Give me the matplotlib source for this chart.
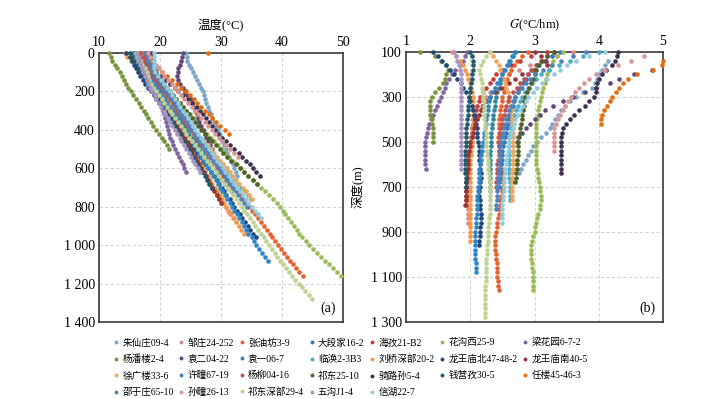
import numpy as np
import matplotlib.pyplot as plt
from matplotlib.lines import Line2D

plt.rcParams['font.family'] = ['Liberation Serif', 'Noto Sans CJK SC']
plt.rcParams['mathtext.fontset'] = 'stix'

# well names and series colours (legend order)
wells = ['朱仙庄09-4', '邹庄24-252', '张油坊3-9', '大段家16-2', '海孜21-B2', '花沟西25-9', '梁花园6-7-2',
         '杨潘楼2-4', '袁二04-22', '袁一06-7', '临涣2-3B3', '刘桥深部20-2', '龙王庙北47-48-2', '龙王庙南40-5',
         '徐广楼33-6', '许疃67-19', '杨柳04-16', '祁东25-10', '骑路孙5-4', '钱营孜30-5', '任楼45-46-3',
         '邵于庄65-10', '孙疃26-13', '祁东深部29-4', '五沟J1-4', '信湖22-7']
colors = ['#7EA6CA', '#DA8A8A', '#E5622C', '#2E78B7', '#C43B3B', '#9BBB59', '#8064A2',
          '#77933C', '#5F497A', '#31859C', '#4BACC6', '#F79646', '#1F497D', '#953735',
          '#F2A65A', '#2F86C6', '#C0504D', '#4F6228', '#3F3151', '#215968', '#E46C0A',
          '#4F81BD', '#D99694', '#BFD393', '#A795C2', '#93CDDD']

step = 20  # logging interval (m); temperature lists start at 0 m

# temperature (°C) every 20 m from the surface
t01 = [24.2, 24.4, 24.5, 24.7, 25.0, 25.4, 25.8, 26.1, 26.4, 26.7, 27.0, 27.2, 27.4, 27.6, 27.8, 28.0, 28.3,
       28.6, 28.9, 29.2, 29.5, 29.8, 30.0, 30.2, 30.5, 30.8, 31.0, 31.3, 31.6, 31.9, 32.2, 32.4, 32.7]
t02 = [17.0, 17.3, 17.7, 18.0, 18.3, 18.6, 19.0, 19.3, 19.7, 20.0, 20.2, 20.5, 20.9, 21.2, 21.5, 21.8, 22.1,
       22.4, 22.8, 23.1, 23.4, 23.7, 24.1, 24.4, 24.7, 25.1, 25.5, 25.8, 26.1, 26.5, 26.9, 27.2, 27.6, 27.9,
       28.3, 28.7, 29.1, 29.5, 30.0, 30.4, 30.8, 31.2, 31.5, 31.9]
t03 = [16.5, 16.6, 16.8, 17.1, 17.5, 17.9, 18.4, 18.8, 19.3, 19.7, 20.2, 20.7, 21.2, 21.6, 22.1, 22.6, 23.1,
       23.6, 24.0, 24.5, 25.0, 25.5, 26.0, 26.4, 26.9, 27.4, 27.9, 28.4, 28.8, 29.3, 29.8, 30.3, 30.8, 31.2,
       31.7, 32.2, 32.7, 33.2, 33.6, 34.1, 34.6, 35.1, 35.6, 36.0, 36.5, 37.0, 37.5, 38.0, 38.4, 38.9, 39.4,
       39.9, 40.4, 40.8, 41.3, 41.8, 42.3, 42.8, 43.4]
t04 = [17.5, 17.8, 18.0, 18.1, 18.2, 18.4, 18.9, 19.4, 19.9, 20.4, 20.8, 21.3, 21.8, 22.2, 22.7, 23.1, 23.6,
       24.0, 24.5, 25.0, 25.4, 25.8, 26.3, 26.7, 27.2, 27.6, 28.1, 28.5, 29.0, 29.4, 29.9, 30.3, 30.7, 31.2,
       31.7, 32.2]
t05 = [15.8, 16.3, 16.9, 17.4, 17.8, 18.2, 18.5, 18.9, 19.2, 19.5, 19.8, 20.2, 20.5, 20.9, 21.2, 21.5, 21.8,
       22.2, 22.5, 22.9, 23.2, 23.6, 23.9, 24.3, 24.6, 25.0, 25.3, 25.7, 26.0, 26.4, 26.8, 27.1, 27.5, 27.9,
       28.2, 28.6, 29.0, 29.3, 29.7, 30.1]
t06 = [16.5, 16.8, 17.2, 17.6, 18.0, 18.5, 19.0, 19.6, 20.2, 20.8, 21.4, 22.0, 22.6, 23.2, 23.7, 24.3, 24.9,
       25.5, 26.0, 26.6, 27.2, 27.7, 28.3, 28.9, 29.5, 30.1, 30.7, 31.3, 32.0, 32.6, 33.2, 33.8, 34.5, 35.2,
       35.9, 36.6, 37.2, 37.9, 38.6, 39.1, 39.6, 40.1, 40.5, 41.0, 41.5, 42.0, 42.4, 42.8, 43.3, 43.9, 44.5,
       45.1, 45.8, 46.4, 47.1, 47.7, 48.3, 49.0, 49.6]
t07 = [17.0, 17.3, 17.6, 17.9, 18.1, 18.4, 18.7, 18.9, 19.2, 19.4, 19.7, 19.9, 20.0, 20.2, 20.3, 20.5, 20.7,
       20.8, 21.0, 21.1, 21.3, 21.5, 21.7, 21.9, 22.2, 22.5, 22.8, 23.1, 23.4, 23.7, 24.0, 24.3]
t08 = [11.6, 11.9, 12.2, 12.6, 13.0, 13.4, 13.8, 14.1, 14.5, 14.8, 15.2, 15.6, 16.0, 16.5, 16.9, 17.3, 17.7,
       18.1, 18.5, 18.9, 19.4, 19.8, 20.3, 20.7, 21.1, 21.5]
t09 = [23.8, 23.6, 23.4, 23.2, 23.0, 22.9, 22.8, 22.9, 23.3, 23.7, 24.1, 24.5, 25.0, 25.3, 25.6, 25.8, 26.0,
       26.2, 26.4, 26.7, 27.0, 27.3, 27.6, 27.9, 28.2, 28.6]
t10 = [15.5, 16.0, 16.5, 16.9, 17.3, 17.7, 18.2, 18.6, 19.1, 19.6, 20.0, 20.5, 20.9, 21.3, 21.8, 22.2, 22.6,
       23.1, 23.5, 24.0, 24.4, 24.8, 25.3, 25.7, 26.2, 26.6, 27.1, 27.5, 27.9, 28.3, 28.8, 29.3, 29.7, 30.2,
       30.6, 31.1, 31.6]
t11 = [18.2, 18.4, 18.6, 18.7, 18.8, 19.0, 19.5, 20.0, 20.4, 20.8, 21.2, 21.7, 22.1, 22.5, 23.0, 23.4, 23.9,
       24.3, 24.8, 25.2, 25.6, 26.1, 26.6, 27.1, 27.5, 28.0, 28.5, 29.0, 29.6, 30.1, 30.6, 31.2, 31.7, 32.2,
       32.8, 33.3, 33.9, 34.4, 34.9]
t12 = [14.2, 14.6, 15.3, 15.9, 16.4, 16.7, 17.1, 17.6, 18.0, 18.5, 18.9, 19.3, 19.8, 20.2, 20.7, 21.2, 21.6,
       22.0, 22.4, 22.8, 23.2, 23.6, 24.0, 24.3, 24.7, 25.1, 25.5, 25.9, 26.3, 26.6, 27.0, 27.4, 27.8, 28.2,
       28.6, 29.0, 29.4, 29.8, 30.1, 30.5, 30.9, 31.3, 31.7, 32.1, 32.5, 32.9, 33.3, 33.7]
t13 = [14.5, 15.0, 15.4, 15.8, 16.1, 16.4, 16.8, 17.2, 17.6, 18.0, 18.5, 19.0, 19.4, 19.9, 20.4, 20.9, 21.4,
       21.9, 22.3, 22.8, 23.3, 23.8, 24.2, 24.7, 25.1, 25.6, 26.1, 26.5, 27.0, 27.4, 27.9, 28.4, 28.8, 29.3,
       29.7, 30.1, 30.5, 30.9, 31.4, 31.8, 32.2, 32.6, 33.1, 33.5, 33.9, 34.4, 34.8, 35.2, 35.7]
t14 = [16.0, 16.4, 16.9, 17.3, 17.6, 18.0, 18.7, 19.5, 20.1, 20.4, 20.6, 20.9, 21.2, 21.4, 21.7, 21.9, 22.2,
       22.5, 22.8, 23.1, 23.4, 23.7, 24.1, 24.4, 24.7, 25.0, 25.3, 25.7, 26.0, 26.4, 26.8, 27.2, 27.5, 27.9,
       28.2, 28.6, 28.9, 29.3, 29.7, 30.0]
t15 = [17.2, 17.1, 17.0, 17.1, 17.2, 17.3, 17.8, 18.4, 18.9, 19.4, 20.0, 20.5, 21.1, 21.7, 22.2, 22.8, 23.4,
       23.9, 24.5, 25.0, 25.6, 26.1, 26.7, 27.2, 27.8, 28.3, 28.8, 29.4, 29.9, 30.4, 31.0, 31.5, 32.0, 32.5,
       33.0, 33.6, 34.1, 34.6, 35.1]
t16 = [16.0, 16.4, 16.8, 17.1, 17.4, 17.7, 18.2, 18.7, 19.1, 19.6, 20.0, 20.4, 20.8, 21.2, 21.6, 21.9, 22.3,
       22.8, 23.2, 23.6, 24.0, 24.4, 24.8, 25.2, 25.6, 26.0, 26.4, 26.8, 27.2, 27.5, 27.9, 28.3, 28.7, 29.1,
       29.5, 29.8, 30.2, 30.6, 31.0, 31.4, 31.8, 32.2, 32.6, 33.0, 33.4, 33.7, 34.1, 34.5, 35.0, 35.4, 35.8,
       36.2, 36.7, 37.2, 37.7]
t17 = [16.8, 17.2, 17.6, 17.9, 18.1, 18.3, 18.8, 19.3, 19.8, 20.3, 20.8, 21.2, 21.7, 22.1, 22.4, 22.8, 23.3,
       23.7, 24.1, 24.6, 25.0, 25.5, 25.9, 26.4, 26.8, 27.3, 27.7, 28.2, 28.7, 29.1, 29.5, 30.0, 30.4, 30.9,
       31.3, 31.8]
t18 = [17.5, 17.8, 18.1, 18.4, 18.7, 19.0, 19.6, 20.2, 20.7, 21.2, 21.7, 22.2, 22.7, 23.2, 23.7, 24.2, 24.7,
       25.2, 25.7, 26.2, 26.8, 27.4, 28.0, 28.6, 29.2, 29.8, 30.4, 31.0, 31.7, 32.4, 33.1, 33.8, 34.5, 35.2,
       35.9]
t19 = [18.5, 18.6, 18.8, 19.0, 19.2, 19.4, 20.2, 21.0, 21.7, 22.4, 23.0, 23.8, 24.6, 25.3, 26.0, 26.6, 27.1,
       27.6, 28.1, 28.6, 29.0, 29.5, 30.1, 30.8, 31.5, 32.2, 32.9, 33.5, 34.1, 34.7, 35.3, 35.8, 36.4]
t20 = [15.0, 15.4, 15.8, 16.2, 16.6, 17.0, 17.4, 17.9, 18.3, 18.7, 19.1, 19.4, 19.8, 20.2, 20.6, 20.9, 21.3,
       21.7, 22.1, 22.4, 22.8, 23.2, 23.5, 23.9, 24.3, 24.7, 25.0, 25.4, 25.8, 26.1, 26.5, 26.9, 27.3, 27.7,
       28.1, 28.5]
t21 = [27.9, 17.8, 18.4, 19.0, 19.7, 20.4, 21.2, 22.0, 22.8, 23.5, 24.2, 24.9, 25.5, 26.1, 26.7, 27.3, 28.0,
       28.6, 29.2, 29.9, 30.6, 31.3]
t22 = [17.6, 17.8, 18.1, 18.3, 18.6, 18.8, 19.3, 19.8, 20.2, 20.6, 21.0, 21.4, 21.9, 22.3, 22.7, 23.1, 23.5,
       24.0, 24.4, 24.8, 25.2, 25.7, 26.1, 26.5, 27.0, 27.4, 27.8, 28.3, 28.8, 29.3, 29.7, 30.1, 30.6, 31.0,
       31.5, 31.9, 32.4, 32.8, 33.3, 33.7, 34.2]
t23 = [18.0, 18.4, 18.8, 19.3, 19.8, 20.3, 20.6, 21.3, 21.9, 22.4, 22.9, 23.5, 24.0, 24.6, 25.2, 25.7, 26.3,
       26.8, 27.4, 27.9, 28.5, 29.0, 29.6, 30.2, 30.8, 31.5, 32.2, 32.8]
t24 = [16.0, 16.3, 16.7, 17.1, 17.5, 17.8, 18.0, 18.2, 18.5, 18.9, 19.3, 19.8, 20.3, 20.7, 21.1, 21.6, 22.0,
       22.5, 22.9, 23.4, 23.9, 24.3, 24.8, 25.3, 25.8, 26.3, 26.7, 27.2, 27.7, 28.2, 28.7, 29.1, 29.6, 30.1,
       30.6, 31.1, 31.5, 32.0, 32.4, 32.9, 33.4, 33.8, 34.3, 34.7, 35.2, 35.6, 36.1, 36.5, 37.0, 37.4, 37.9,
       38.3, 38.8, 39.2, 39.7, 40.1, 40.6, 41.1, 41.6, 42.2, 42.8, 43.3, 43.8, 44.4, 44.9]
t25 = [16.3, 16.4, 16.6, 16.8, 17.0, 17.2, 17.5, 17.8, 18.1, 18.4, 18.7, 19.1, 19.4, 19.8, 20.2, 20.6, 20.9,
       21.3, 21.7, 22.0, 22.4, 22.8, 23.2, 23.5, 23.9, 24.3, 24.7, 25.0, 25.4, 25.8, 26.2, 26.5]
t26 = [19.0, 19.0, 19.0, 19.0, 19.0, 19.1, 19.6, 20.1, 20.6, 21.1, 21.6, 22.0, 22.5, 22.9, 23.3, 23.7, 24.2,
       24.6, 25.0, 25.4, 25.8, 26.3, 26.7, 27.1, 27.6, 28.0, 28.5, 28.9, 29.4, 29.8, 30.3, 30.7, 31.3, 31.7,
       32.2, 32.6, 33.1, 33.6, 34.1, 34.5, 35.0, 35.5, 36.0, 36.5]

# mean geothermal gradient G (°C/hm) every 20 m, starting at the depth in g_top
g_top = [140, 100, 100, 100, 100, 100, 100, 100, 180, 100, 100, 100, 100, 100,
         100, 100, 100, 100, 100, 100, 140, 100, 120, 100, 100, 100]
g01 = [4.15, 4.10, 4.05, 4.00, 3.97, 3.94, 3.90, 3.75, 3.64, 3.55, 3.47, 3.42, 3.37, 3.32, 3.28, 3.24, 3.18,
       3.10, 3.04, 2.98, 2.94, 2.90, 2.86, 2.82, 2.79, 2.76]
g02 = [3.60, 3.35, 3.10, 2.93, 2.76, 2.60, 2.52, 2.45, 2.38, 2.31, 2.25, 2.22, 2.19, 2.16, 2.13, 2.10, 2.08,
       2.07, 2.05, 2.03, 2.02, 2.01, 2.00, 1.99, 1.98, 1.98, 1.97, 1.97, 1.96, 1.96, 1.96, 1.96, 1.96, 1.97,
       1.97, 1.97, 1.97, 1.97, 1.97]
g03 = [2.90, 2.80, 2.72, 2.68, 2.63, 2.60, 2.57, 2.55, 2.53, 2.52, 2.50, 2.49, 2.48, 2.47, 2.46, 2.45, 2.45,
       2.44, 2.44, 2.43, 2.43, 2.44, 2.45, 2.46, 2.47, 2.48, 2.49, 2.50, 2.50, 2.51, 2.50, 2.49, 2.48, 2.47,
       2.46, 2.45, 2.44, 2.43, 2.42, 2.41, 2.40, 2.39, 2.39, 2.39, 2.39, 2.40, 2.40, 2.41, 2.41, 2.42, 2.42,
       2.43, 2.43, 2.44]
g04 = [3.40, 3.28, 3.17, 3.07, 2.98, 2.90, 2.86, 2.82, 2.78, 2.74, 2.70, 2.68, 2.66, 2.64, 2.62, 2.60, 2.58,
       2.57, 2.55, 2.54, 2.52, 2.51, 2.50, 2.50, 2.49, 2.48, 2.47, 2.46, 2.46, 2.45, 2.45]
g05 = [3.20, 2.95, 2.78, 2.64, 2.50, 2.40, 2.35, 2.30, 2.25, 2.20, 2.15, 2.13, 2.11, 2.09, 2.07, 2.05, 2.04,
       2.03, 2.02, 2.01, 2.00, 1.99, 1.98, 1.97, 1.97, 1.96, 1.96, 1.95, 1.95, 1.94, 1.94, 1.94, 1.93, 1.93,
       1.93]
g06 = [3.45, 3.35, 3.29, 3.26, 3.23, 3.20, 3.18, 3.16, 3.14, 3.12, 3.10, 3.09, 3.07, 3.06, 3.05, 3.04, 3.03,
       3.03, 3.02, 3.02, 3.02, 3.02, 3.02, 3.03, 3.03, 3.03, 3.04, 3.05, 3.06, 3.07, 3.08, 3.09, 3.10, 3.10,
       3.09, 3.08, 3.06, 3.04, 3.02, 3.01, 3.00, 2.98, 2.96, 2.95, 2.95, 2.95, 2.95, 2.96, 2.96, 2.97, 2.97,
       2.97, 2.98, 2.98]
g07 = [1.95, 1.92, 1.88, 1.84, 1.76, 1.71, 1.67, 1.63, 1.60, 1.57, 1.55, 1.52, 1.48, 1.45, 1.42, 1.39, 1.36,
       1.34, 1.32, 1.31, 1.30, 1.30, 1.29, 1.29, 1.30, 1.30, 1.31]
g08 = [1.22, 1.45, 1.55, 1.62, 1.66, 1.62, 1.60, 1.58, 1.52, 1.45, 1.40, 1.38, 1.37, 1.37, 1.38, 1.40, 1.41,
       1.42, 1.42, 1.42, 1.42]
g09 = [4.83, 4.55, 4.32, 4.17, 3.96, 3.79, 3.60, 3.44, 3.29, 3.17, 3.08, 3.00, 2.93, 2.86, 2.80, 2.75, 2.72]
g10 = [2.70, 2.65, 2.60, 2.57, 2.53, 2.50, 2.48, 2.46, 2.44, 2.42, 2.40, 2.39, 2.38, 2.37, 2.36, 2.35, 2.34,
       2.34, 2.33, 2.33, 2.32, 2.32, 2.31, 2.31, 2.30, 2.30, 2.30, 2.30, 2.30, 2.30, 2.30, 2.30]
g11 = [4.00, 3.75, 3.55, 3.38, 3.23, 3.10, 3.03, 2.96, 2.90, 2.85, 2.80, 2.77, 2.74, 2.71, 2.68, 2.65, 2.64,
       2.63, 2.62, 2.61, 2.60, 2.60, 2.60, 2.60, 2.60, 2.60, 2.61, 2.61, 2.61, 2.62, 2.62, 2.62, 2.62, 2.62]
g12 = [1.72, 1.78, 1.84, 1.88, 1.92, 1.95, 1.97, 1.99, 2.01, 2.03, 2.05, 2.05, 2.05, 2.05, 2.05, 2.05, 2.04,
       2.04, 2.03, 2.03, 2.02, 2.02, 2.01, 2.01, 2.00, 2.00, 2.00, 2.00, 2.00, 2.00, 2.00, 2.00, 2.00, 1.99,
       1.99, 1.99, 1.99, 1.99, 1.99, 1.99, 1.99, 1.99, 1.99]
g13 = [1.42, 1.50, 1.56, 1.62, 1.68, 1.75, 1.80, 1.85, 1.89, 1.94, 1.98, 2.00, 2.02, 2.04, 2.06, 2.08, 2.09,
       2.10, 2.11, 2.11, 2.12, 2.13, 2.13, 2.14, 2.14, 2.15, 2.15, 2.16, 2.16, 2.15, 2.15, 2.14, 2.14, 2.15,
       2.15, 2.15, 2.16, 2.16, 2.16, 2.15, 2.15, 2.15, 2.14, 2.14]
g14 = [3.00, 3.10, 3.18, 3.20, 3.00, 2.80, 2.70, 2.60, 2.48, 2.38, 2.30, 2.25, 2.20, 2.16, 2.13, 2.10, 2.08,
       2.06, 2.04, 2.02, 2.00, 1.99, 1.98, 1.97, 1.97, 1.96, 1.96, 1.95, 1.95, 1.94, 1.94, 1.93, 1.93, 1.93,
       1.92]
g15 = [2.30, 2.35, 2.40, 2.44, 2.47, 2.50, 2.52, 2.54, 2.56, 2.58, 2.60, 2.61, 2.62, 2.63, 2.64, 2.65, 2.65,
       2.66, 2.66, 2.66, 2.66, 2.66, 2.66, 2.66, 2.66, 2.66, 2.66, 2.65, 2.65, 2.65, 2.65, 2.65, 2.65, 2.65]
g16 = [2.70, 2.66, 2.62, 2.58, 2.54, 2.50, 2.46, 2.42, 2.38, 2.34, 2.30, 2.29, 2.28, 2.27, 2.26, 2.25, 2.24,
       2.23, 2.22, 2.21, 2.20, 2.19, 2.18, 2.17, 2.16, 2.15, 2.14, 2.14, 2.13, 2.13, 2.12, 2.12, 2.11, 2.11,
       2.10, 2.10, 2.10, 2.09, 2.09, 2.09, 2.08, 2.08, 2.08, 2.08, 2.08, 2.08, 2.08, 2.09, 2.09, 2.09]
g17 = [3.30, 3.20, 3.10, 3.02, 2.95, 2.90, 2.84, 2.78, 2.72, 2.66, 2.60, 2.58, 2.56, 2.54, 2.52, 2.50, 2.49,
       2.48, 2.47, 2.46, 2.45, 2.45, 2.44, 2.44, 2.43, 2.42, 2.42, 2.41, 2.41, 2.40, 2.40]
g18 = [3.30, 3.20, 3.12, 3.06, 3.02, 3.00, 2.97, 2.94, 2.91, 2.88, 2.85, 2.84, 2.83, 2.82, 2.81, 2.80, 2.79,
       2.78, 2.77, 2.76, 2.75, 2.75, 2.74, 2.74, 2.73, 2.72, 2.72, 2.71, 2.71, 2.70]
g19 = [4.30, 4.28, 4.25, 4.20, 4.12, 4.05, 4.00, 3.97, 3.96, 3.95, 3.92, 3.85, 3.78, 3.70, 3.62, 3.55, 3.49,
       3.44, 3.43, 3.42, 3.42, 3.42, 3.42, 3.42, 3.42, 3.42, 3.42, 3.42]
g20 = [2.00, 2.02, 2.04, 2.05, 2.04, 2.03, 2.02, 2.01, 2.00, 1.99, 1.98, 1.98, 1.97, 1.96, 1.96, 1.95, 1.95,
       1.94, 1.94, 1.93, 1.93, 1.93, 1.92, 1.92, 1.92, 1.92, 1.92, 1.92, 1.93, 1.93, 1.93]
g21 = [5.00, 4.98, 4.85, 4.60, 4.46, 4.38, 4.32, 4.27, 4.21, 4.17, 4.13, 4.08, 4.05, 4.04, 4.04]
g22 = [3.80, 3.60, 3.42, 3.27, 3.13, 3.00, 2.93, 2.86, 2.80, 2.75, 2.70, 2.67, 2.64, 2.61, 2.58, 2.55, 2.54,
       2.52, 2.51, 2.49, 2.48, 2.47, 2.47, 2.46, 2.46, 2.45, 2.44, 2.44, 2.43, 2.43, 2.42, 2.42, 2.41, 2.41,
       2.40, 2.40]
g23 = [4.70, 4.50, 4.30, 4.10, 3.95, 3.85, 3.77, 3.70, 3.63, 3.57, 3.52, 3.48, 3.44, 3.40, 3.37, 3.34, 3.31,
       3.30, 3.30, 3.30, 3.30, 3.30]
g24 = [2.30, 2.25, 2.20, 2.16, 2.14, 2.15, 2.17, 2.18, 2.19, 2.20, 2.20, 2.21, 2.21, 2.22, 2.22, 2.22, 2.23,
       2.23, 2.24, 2.24, 2.25, 2.25, 2.26, 2.26, 2.27, 2.28, 2.28, 2.29, 2.29, 2.30, 2.30, 2.30, 2.30, 2.30,
       2.30, 2.30, 2.30, 2.29, 2.29, 2.28, 2.28, 2.27, 2.27, 2.26, 2.26, 2.26, 2.25, 2.25, 2.25, 2.24, 2.24,
       2.24, 2.23, 2.23, 2.23, 2.23, 2.23, 2.23, 2.23, 2.23]
g25 = [1.75, 1.78, 1.80, 1.82, 1.84, 1.85, 1.85, 1.85, 1.85, 1.85, 1.85, 1.85, 1.85, 1.85, 1.85, 1.85, 1.85,
       1.86, 1.86, 1.86, 1.86, 1.86, 1.86, 1.86, 1.86, 1.86, 1.86]
g26 = [4.10, 3.85, 3.65, 3.50, 3.40, 3.30, 3.20, 3.12, 3.04, 2.97, 2.90, 2.86, 2.82, 2.78, 2.74, 2.70, 2.68,
       2.66, 2.64, 2.62, 2.60, 2.59, 2.58, 2.57, 2.56, 2.55, 2.54, 2.54, 2.53, 2.53, 2.52, 2.52, 2.51, 2.51,
       2.50, 2.50, 2.50, 2.50, 2.50]

temps = [t01, t02, t03, t04, t05, t06, t07, t08, t09, t10, t11, t12, t13,
         t14, t15, t16, t17, t18, t19, t20, t21, t22, t23, t24, t25, t26]
grads = [g01, g02, g03, g04, g05, g06, g07, g08, g09, g10, g11, g12, g13,
         g14, g15, g16, g17, g18, g19, g20, g21, g22, g23, g24, g25, g26]

fig = plt.figure(figsize=(7.25, 3.99), dpi=100)
ax1 = fig.add_axes([99 / 725, 77 / 399, 244 / 725, 269 / 399])
ax2 = fig.add_axes([406 / 725, 77 / 399, 257 / 725, 270 / 399])

for i in range(len(wells)):
    t = temps[i]
    d = step * np.arange(len(t))
    ax1.plot(t, d, 'o', ms=3.3, mew=0, color=colors[i], label=wells[i], clip_on=False, zorder=3)
    g = grads[i]
    dg = g_top[i] + step * np.arange(len(g))
    ax2.plot(g, dg, 'o', ms=3.3, mew=0, color=colors[i], clip_on=False, zorder=3)

# left panel: temperature
ax1.set_xlim(10, 50)
ax1.set_ylim(1400, 0)
ax1.set_xticks([10, 20, 30, 40, 50])
ax1.set_yticks(range(0, 1401, 200))
ax1.set_yticklabels(['0', '200', '400', '600', '800', '1 000', '1 200', '1 400'])
ax1.xaxis.tick_top()
ax1.xaxis.set_label_position('top')
ax1.set_xlabel('温度(°C)', fontsize=9, labelpad=5)
ax1.text(0.97, 0.025, '(a)', transform=ax1.transAxes, ha='right', va='bottom', fontsize=10)

# right panel: gradient
ax2.set_xlim(1, 5)
ax2.set_ylim(1300, 100)
ax2.set_xticks([1, 2, 3, 4, 5])
ax2.set_yticks(range(100, 1301, 200))
ax2.set_yticklabels(['100', '300', '500', '700', '900', '1 100', '1 300'])
ax2.xaxis.tick_top()
ax2.xaxis.set_label_position('top')
ax2.set_xlabel('$G$(°C/hm)', fontsize=9, labelpad=5)
ax2.set_ylabel('深度(m)', fontsize=9, labelpad=4)
ax2.text(0.97, 0.025, '(b)', transform=ax2.transAxes, ha='right', va='bottom', fontsize=10)

for ax in (ax1, ax2):
    ax.grid(True, color='#d4d4d4', linestyle=(0, (3, 2)), linewidth=0.8, zorder=0)
    ax.set_axisbelow(True)
    ax.tick_params(length=0, labelsize=10, pad=3)
    for s in ax.spines.values():
        s.set_color('#3a3a3a')
        s.set_linewidth(1.2)

# legend laid out row by row like the original (matplotlib fills columns first)
ncol = 7
nrow = 4
order = [r * ncol + c for c in range(ncol) for r in range(nrow) if r * ncol + c < len(wells)]
leg_handles = [Line2D([], [], marker='o', ls='', ms=2.8, mew=0, color=colors[k]) for k in order]
fig.legend(leg_handles, [wells[k] for k in order], loc='upper left', bbox_to_anchor=(108 / 725, 1 - 333 / 399),
           ncol=ncol, frameon=False, fontsize=6.9, handlelength=0.7, handletextpad=0.3,
           columnspacing=0.45, labelspacing=0.75, borderpad=0)

fig.savefig('out.png', dpi=100)
